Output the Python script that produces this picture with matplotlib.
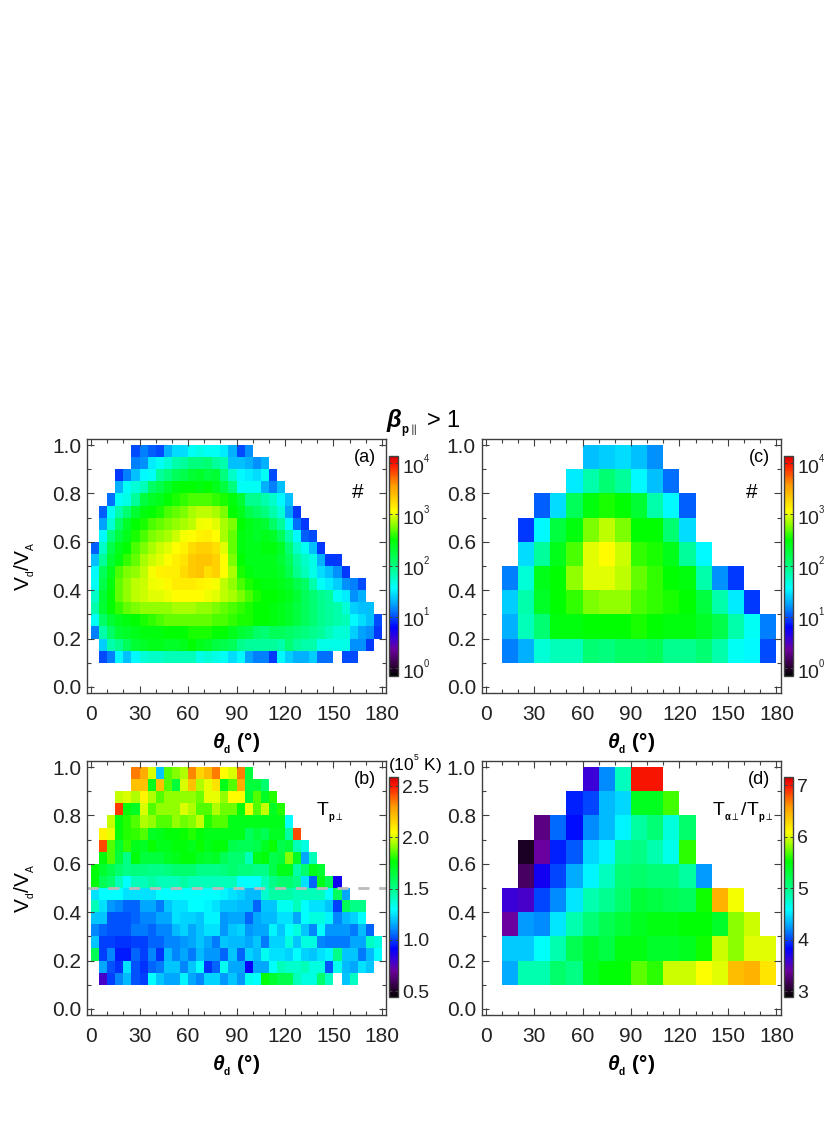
#recreating the four panel drift speed / angle maps
import numpy as np
import matplotlib
matplotlib.use("Agg")
import matplotlib.pyplot as plt
from matplotlib.colors import LinearSegmentedColormap, LogNorm, Normalize
from matplotlib.ticker import MultipleLocator

plt.rcParams['font.family'] = ['Liberation Sans', 'DejaVu Sans']
plt.rcParams['mathtext.fontset'] = 'custom'
plt.rcParams['mathtext.rm'] = 'Liberation Sans'
plt.rcParams['mathtext.bf'] = 'Liberation Sans:bold'
plt.rcParams['mathtext.it'] = 'Liberation Sans:italic'
plt.rcParams['mathtext.bfit'] = 'Liberation Sans:italic:bold'
plt.rcParams['mathtext.fallback'] = 'stixsans'

n = np.nan

# bin edges
x_fine = np.arange(0, 185, 5)
y_fine = np.arange(0.10, 1.001, 0.05)
x_coarse = np.arange(10, 190, 10)
y_coarse = np.arange(0.10, 1.001, 0.1)

# panel a, log10 of counts, rows go from top (0.95-1.0) down to (0.10-0.15)
log_count_a = [
    [n,n,n,n,n, 1.0,1.15,1.05,1.0,1.3,1.45,1.45,1.6,1.65,1.6,1.6,1.5,1.3,1.0,1.2],
    [n,n,n,n,n, 1.15,1.2,1.5,1.6,1.7,1.85,1.9,2.0,2.0,2.05,1.9,1.85,1.35,1.35,1.3,1.2,1.3],
    [n,n,n, 0.95,1.15,1.35,1.55,1.6,1.9,2.0,2.15,2.2,2.3,2.35,2.25,2.3,2.0,1.75,1.55,1.5,1.45,1.6,1.0],
    [n,n,n, 1.3,1.6,1.7,1.8,2.1,2.2,2.35,2.45,2.5,2.5,2.45,2.5,2.4,2.25,2.0,1.6,1.6,1.6,1.3,1.15,1.35],
    [n,n, 1.1,1.6,1.65,1.9,2.25,2.35,2.4,2.5,2.55,2.6,2.65,2.65,2.65,2.6,2.55,2.45,2.3,1.95,1.95,1.85,1.75,1.55,1.35],
    [n, 1.05,1.6,1.85,2.05,2.3,2.45,2.5,2.55,2.65,2.7,2.75,2.85,2.9,2.9,2.85,2.75,2.5,2.4,2.2,2.1,2.0,1.85,1.7,1.25,0.95],
    [n, 1.25,1.7,2.1,2.35,2.5,2.55,2.65,2.7,2.75,2.8,2.85,2.9,3.02,3.05,3.0,2.85,2.75,2.5,2.4,2.35,2.3,2.1,1.9,1.55,1.1,0.95],
    [n, 1.55,2.0,2.25,2.4,2.55,2.65,2.75,2.8,2.85,2.95,3.05,3.08,3.12,3.15,3.08,2.85,2.7,2.45,2.4,2.35,2.4,2.35,2.15,1.85,1.55,1.05,1.0],
    [1.05,1.75,2.2,2.4,2.5,2.65,2.75,2.85,2.95,3.0,3.08,3.12,3.25,3.3,3.3,3.22,3.0,2.7,2.45,2.4,2.4,2.45,2.45,2.35,2.05,1.75,1.6,1.35,0.95],
    [1.35,1.9,2.3,2.45,2.6,2.7,2.85,2.95,3.0,3.08,3.15,3.2,3.32,3.36,3.36,3.3,3.08,2.75,2.5,2.4,2.4,2.4,2.4,2.3,2.15,1.9,1.75,1.65,1.3,0.95,0.95],
    [1.55,2.15,2.4,2.65,2.75,2.8,2.9,3.05,3.12,3.15,3.15,3.25,3.32,3.36,3.22,3.3,3.08,2.85,2.55,2.45,2.4,2.4,2.4,2.35,2.2,1.95,1.8,1.65,1.45,1.35,1.2,0.95],
    [1.6,2.2,2.45,2.7,2.8,2.9,2.95,3.02,3.05,3.1,3.16,3.16,3.16,3.12,3.1,3.05,2.9,2.8,2.65,2.55,2.5,2.45,2.45,2.4,2.35,2.2,2.1,1.85,1.6,1.5,1.4,1.2,1.15,1.0],
    [1.75,2.3,2.5,2.7,2.8,2.9,2.95,3.0,3.0,3.03,3.07,3.07,3.07,3.07,3.03,3.0,2.9,2.85,2.75,2.65,2.55,2.5,2.5,2.45,2.4,2.3,2.15,2.05,1.95,1.9,1.6,1.5,1.2,1.3],
    [1.85,2.3,2.5,2.6,2.7,2.75,2.8,2.8,2.8,2.8,2.85,2.85,2.85,2.8,2.8,2.75,2.7,2.65,2.6,2.55,2.5,2.5,2.45,2.4,2.35,2.25,2.15,2.05,1.95,1.9,1.85,1.7,1.4,1.35,1.35],
    [1.6,2.1,2.3,2.4,2.45,2.5,2.55,2.6,2.65,2.7,2.7,2.7,2.7,2.7,2.7,2.65,2.65,2.6,2.55,2.55,2.5,2.5,2.45,2.4,2.35,2.25,2.15,2.05,1.95,1.9,1.85,1.8,1.55,1.45,1.35,1.0],
    [1.15,1.85,2.1,2.3,2.35,2.4,2.45,2.45,2.45,2.5,2.5,2.5,2.55,2.55,2.55,2.5,2.5,2.4,2.3,2.25,2.1,2.05,2.15,2.15,2.1,2.05,2.0,1.95,1.9,1.8,1.7,1.7,1.4,1.25,1.2,0.95],
    [n, 1.4,1.85,1.95,2.15,2.3,2.35,2.4,2.4,2.35,2.35,2.4,2.5,2.4,2.35,2.25,2.2,2.15,1.95,1.9,1.9,1.9,1.9,1.85,2.05,1.9,1.85,1.85,1.65,1.65,1.65,1.65,1.2,1.2,0.95],
    [n, 1.0,1.15,1.55,1.35,1.55,1.7,1.75,1.75,1.8,1.8,1.8,1.8,1.65,1.7,1.65,1.6,1.45,1.55,1.25,1.15,1.15,0.95,1.55,1.4,1.3,1.3,1.4,1.1,1.1,n,1.0,1.0],
]

# panel b, Tp perp in 1e5 K
t_perp_b = [
    [n,n,n,n,n, 2.35,2.25,2.0,1.2,1.85,1.9,1.95,2.33,2.15,2.22,2.35,2.05,2.0,2.35,1.65],
    [n,n,n,n,n, 2.2,2.2,1.72,2.2,1.85,1.65,2.0,2.2,1.95,2.02,2.12,1.72,1.85,2.25,1.65,1.65,1.55],
    [n,n,n, 1.98,2.0,1.95,2.07,1.95,1.85,1.92,1.92,1.92,1.92,1.88,2.02,2.02,1.92,2.05,2.05,1.68,1.85,1.7,1.8],
    [n,n,n, 2.45,1.75,1.7,2.0,1.85,1.92,1.92,1.92,2.0,1.95,1.85,1.85,1.95,1.88,1.88,1.75,2.03,1.85,1.98,1.7,1.8],
    [n,n, 1.98,1.75,1.8,1.85,1.95,1.92,1.85,1.85,1.92,1.88,1.9,1.98,1.8,1.85,1.85,1.72,1.72,1.72,1.72,1.72,1.72,1.72,1.3],
    [n, 2.08,2.02,1.75,1.8,1.82,1.85,1.7,1.72,1.75,1.75,1.78,1.8,1.75,1.72,1.72,1.72,1.72,1.72,1.58,1.65,1.6,1.7,1.7,1.45,2.42],
    [n, 2.42,1.85,1.68,1.82,1.72,1.7,1.78,1.72,1.72,1.75,1.75,1.72,1.78,1.72,1.75,1.75,1.62,1.6,1.6,1.62,1.7,1.78,1.62,1.65,1.42,1.35],
    [n, 1.75,1.85,1.65,1.5,1.75,1.65,1.65,1.65,1.7,1.72,1.75,1.75,1.7,1.68,1.7,1.6,1.55,1.55,1.42,1.72,1.75,1.62,1.65,1.9,1.7,1.15,1.42],
    [1.75,1.68,1.62,1.55,1.5,1.52,1.52,1.5,1.5,1.52,1.55,1.55,1.55,1.5,1.5,1.5,1.52,1.55,1.52,1.52,1.5,1.5,1.62,1.72,1.72,1.45,1.55,1.72,1.68],
    [1.75,1.6,1.55,1.42,1.3,1.42,1.42,1.45,1.42,1.42,1.42,1.45,1.42,1.42,1.42,1.42,1.42,1.42,1.3,1.3,1.3,1.42,1.5,1.55,1.55,1.5,1.25,1.05,1.72,1.6,0.88],
    [1.25,1.3,1.3,1.3,1.25,1.25,1.25,1.25,1.3,1.3,1.3,1.3,1.3,1.3,1.3,1.3,1.28,1.25,1.22,1.18,1.18,1.38,1.45,1.45,1.45,1.42,1.42,1.42,1.42,1.3,1.58,1.15],
    [1.42,1.25,1.12,1.1,1.05,1.05,1.15,1.15,1.08,1.2,1.25,1.25,1.3,1.3,1.28,1.25,1.2,1.2,1.18,1.18,1.05,1.2,1.2,1.32,1.32,1.42,1.3,1.25,1.25,1.2,1.0,1.6,1.5,1.5],
    [1.2,1.2,1.02,1.02,1.02,1.05,1.1,1.1,1.15,1.15,1.25,1.22,1.22,1.2,1.28,1.28,1.12,1.15,1.15,1.05,1.15,1.18,1.18,1.25,1.25,1.15,1.3,1.35,1.35,1.28,1.1,1.18,1.22,1.3],
    [1.1,1.05,1.02,1.02,1.02,1.08,1.08,1.05,1.1,1.1,1.18,1.22,1.15,1.2,1.25,1.25,1.12,1.2,1.22,1.12,1.15,1.15,1.28,1.2,1.3,1.35,1.2,1.1,1.3,1.12,1.12,1.12,1.08,1.18,1.05],
    [1.2,1.0,1.0,0.98,0.98,1.0,1.0,1.05,1.05,1.1,1.1,1.12,1.15,1.2,1.15,1.08,1.2,1.18,1.18,1.15,1.2,1.08,1.22,1.22,1.35,1.2,1.35,1.35,1.1,1.08,1.08,1.08,1.15,1.15,1.4,1.35],
    [1.6,1.0,1.1,0.95,0.95,1.05,1.0,1.1,0.98,1.18,1.1,1.15,1.08,1.18,1.12,1.12,1.05,1.2,1.05,1.22,1.18,1.32,1.25,1.25,1.22,1.3,1.22,1.2,1.25,1.28,1.5,1.2,1.2,1.08,1.18,1.3],
    [n, 1.15,1.02,0.98,1.25,1.02,0.98,1.05,1.08,1.2,1.2,1.1,1.2,1.3,0.98,1.05,1.32,1.15,1.15,0.9,1.15,1.15,1.3,1.42,1.38,1.38,1.42,1.35,1.35,1.02,1.32,1.18,1.15,1.25,1.2],
    [n, 0.78,1.0,1.1,1.18,1.02,1.0,1.3,1.2,1.15,1.15,1.28,1.15,1.1,1.22,1.22,1.12,1.2,1.12,1.32,1.3,1.75,1.68,1.62,1.62,1.42,1.35,1.35,1.55,1.4,n,1.2,1.4],
]

# panel c, log10 of counts, coarse bins
log_count_c = [
    [n,n,n,n,n, 1.35,1.4,1.45,1.35,1.2],
    [n,n,n,n, 1.5,1.85,2.05,1.9,1.55,1.35,1.1],
    [n,n, 1.05,1.45,2.15,2.45,2.55,2.5,2.3,1.85,1.55,1.05],
    [n, 0.95,1.55,2.25,2.45,2.75,2.9,2.75,2.5,2.5,2.05,1.45],
    [n, 1.45,1.9,2.4,2.65,3.0,3.07,2.95,2.6,2.55,2.4,1.9,1.55],
    [1.15,1.7,2.4,2.5,2.8,3.0,3.0,2.9,2.7,2.6,2.5,2.45,1.85,1.2,0.95],
    [1.4,1.85,2.35,2.5,2.6,2.75,2.8,2.8,2.65,2.6,2.55,2.5,2.25,1.85,1.5,0.95],
    [1.3,1.8,2.05,2.45,2.45,2.5,2.5,2.5,2.55,2.5,2.45,2.45,2.35,2.2,1.85,1.6,1.15],
    [1.15,1.3,1.7,1.8,1.8,2.05,2.0,2.1,2.1,2.15,1.95,1.95,2.05,1.85,1.6,1.55,1.0],
]

# panel d, T alpha perp / T p perp, coarse bins
ratio_d = [
    [n,n,n,n,n, 3.6,4.2,4.8,7.0,7.0],
    [n,n,n,n, 3.9,4.0,4.35,4.45,5.4,5.4,5.65],
    [n,n, 3.3,4.1,3.85,4.2,4.35,4.55,4.9,5.05,4.7,5.1],
    [n, 3.0,3.4,3.9,4.05,4.45,4.55,4.95,5.0,4.85,4.65,5.6],
    [n, 3.2,3.75,4.0,4.3,4.55,4.8,5.05,5.1,5.05,5.05,4.9,4.25],
    [3.6,3.55,4.0,4.2,4.5,4.85,4.95,5.1,5.3,5.25,5.2,5.15,5.55,6.45,6.05],
    [3.4,4.25,4.2,4.5,4.85,5.05,5.2,5.3,5.4,5.45,5.45,5.5,5.5,5.35,5.8,5.95],
    [4.4,4.4,4.6,4.85,5.2,5.35,5.25,5.45,5.45,5.35,5.35,5.4,5.55,5.95,5.8,6.0,6.0],
    [4.3,4.85,4.85,5.1,5.0,5.4,5.5,5.5,5.7,5.6,5.95,5.95,6.08,6.0,6.4,6.45,6.2],
]

W, H = 830, 1127

def to_grid(rows, ncol):
    # rows are written top first, pad the tail with nan and flip for pcolormesh
    grid = np.full((len(rows), ncol), np.nan)
    for i, r in enumerate(rows):
        grid[i, :len(r)] = r
    return grid[::-1]

def box(left, top, right, bottom):
    return [left / W, 1 - bottom / H, (right - left) / W, (bottom - top) / H]

# IDL style rainbow with black at the bottom
rainbow = LinearSegmentedColormap.from_list("rainbow39", [
    (0.00, (0, 0, 0)), (0.05, (0.20, 0, 0.25)), (0.12, (0.42, 0, 0.62)),
    (0.17, (0.22, 0, 0.85)), (0.22, (0, 0, 1)), (0.28, (0, 0.38, 1)),
    (0.33, (0, 0.66, 1)), (0.40, (0, 1, 1)), (0.50, (0, 1, 0.5)), (0.62, (0, 1, 0)),
    (0.68, (0.5, 1, 0)), (0.75, (1, 1, 0)), (0.87, (1, 0.6, 0)),
    (0.96, (1, 0.1, 0)), (1.00, (0.85, 0, 0))])

dark = "#404040"
tick_font = 15
theta_label = r"$\mathbfit{\theta}_{{}_{\mathbf{d}}}$ $\mathbf{(°)}$"
va_label = r"$\mathrm{V}_{{}_{\mathrm{d}}}\mathrm{/V}_{{}_{\mathrm{A}}}$"

fig = plt.figure(figsize=(W / 100, H / 100), dpi=100)

def panel(values, xedges, yedges, norm, left, top, letter):
    ax = fig.add_axes(box(left, top, left + 299, top + 254))
    grid = to_grid(values, len(xedges) - 1)
    mesh = ax.pcolormesh(xedges, yedges, grid, cmap=rainbow, norm=norm, linewidth=0)
    ax.set_xlim(-2.5, 182.5)
    ax.set_ylim(-0.025, 1.025)
    ax.xaxis.set_major_locator(MultipleLocator(30))
    ax.xaxis.set_minor_locator(MultipleLocator(10))
    ax.yaxis.set_major_locator(MultipleLocator(0.2))
    ax.yaxis.set_minor_locator(MultipleLocator(0.1))
    ax.tick_params(which='major', direction='in', top=True, right=True, length=5,
                   width=0.8, color=dark, labelsize=tick_font, labelcolor='#222222', pad=4)
    ax.tick_params(axis='x', which='major', pad=9)
    ax.tick_params(which='minor', direction='in', top=True, right=True, length=3,
                   width=0.8, color=dark)
    for s in ax.spines.values():
        s.set_color(dark)
        s.set_linewidth(1.0)
    ax.set_xlabel(theta_label, fontsize=15, labelpad=5)
    ax.text(0.928, 0.926, letter, transform=ax.transAxes, ha='center', va='center', fontsize=13)
    return ax, mesh

def bar(mesh, left, top, ticks, labels):
    cax = fig.add_axes(box(left, top, left + 9, top + 220))
    cb = fig.colorbar(mesh, cax=cax)
    cb.set_ticks(ticks)
    cb.set_ticklabels(labels)
    cb.minorticks_off()
    cax.tick_params(which='major', direction='in', left=True, right=True, length=2.5,
                    width=0.7, color=dark, labelsize=14, labelcolor='#222222', pad=3)
    cb.outline.set_edgecolor(dark)
    cb.outline.set_linewidth(1.0)
    return cax

count_norm = LogNorm(10 ** -0.15, 10 ** 4.14)
count_ticks = [1, 10, 100, 1000, 10000]
count_labels = [r"$\mathrm{10^{{}^{%d}}}$" % i for i in range(5)]

ax_a, m_a = panel(10 ** to_grid(log_count_a, 36)[::-1], x_fine, y_fine, count_norm, 87, 439, "(a)")
ax_a.text(0.905, 0.79, "#", transform=ax_a.transAxes, ha='center', va='center', fontsize=15)
ax_a.set_ylabel(va_label, fontsize=15, labelpad=11)
bar(m_a, 389.3, 456, count_ticks, count_labels)

ax_c, m_c = panel(10 ** to_grid(log_count_c, 17)[::-1], x_coarse, y_coarse, count_norm, 481.5, 439, "(c)")
ax_c.text(0.905, 0.79, "#", transform=ax_c.transAxes, ha='center', va='center', fontsize=15)
bar(m_c, 784, 456, count_ticks, count_labels)

ax_b, m_b = panel(t_perp_b, x_fine, y_fine, Normalize(0.44, 2.585), 87, 761, "(b)")
ax_b.axhline(0.5, color='#bbbbbb', linewidth=2, linestyle=(0, (4, 3.5)))
ax_b.text(0.813, 0.795, r"$\mathrm{T}_{{}_{\mathbf{p}\perp}}$", transform=ax_b.transAxes,
          ha='center', va='center', fontsize=14)
ax_b.set_ylabel(va_label, fontsize=15, labelpad=11)
bar(m_b, 389.3, 777.3, [0.5, 1.0, 1.5, 2.0, 2.5], ["0.5", "1.0", "1.5", "2.0", "2.5"])
fig.text(415 / W, 1 - 764 / H, r"(10$^{{}^{5}}$ K)", ha='center', va='center', fontsize=12.5)

ax_d, m_d = panel(ratio_d, x_coarse, y_coarse, Normalize(2.88, 7.15), 481.5, 761, "(d)")
ax_d.text(0.875, 0.795, r"$\mathrm{T}_{{}_{\mathbf{\alpha}\perp}}\mathrm{/T}_{{}_{\mathbf{p}\perp}}$",
          transform=ax_d.transAxes, ha='center', va='center', fontsize=14)
bar(m_d, 784, 777.3, [3, 4, 5, 6, 7], ["3", "4", "5", "6", "7"])

fig.text(423 / W, 1 - 424 / H, r"$\mathbfit{\beta}_{{}_{\mathbf{p}\parallel}}$ > 1",
         ha='center', va='center', fontsize=17)

fig.savefig("out.png", dpi=100)
